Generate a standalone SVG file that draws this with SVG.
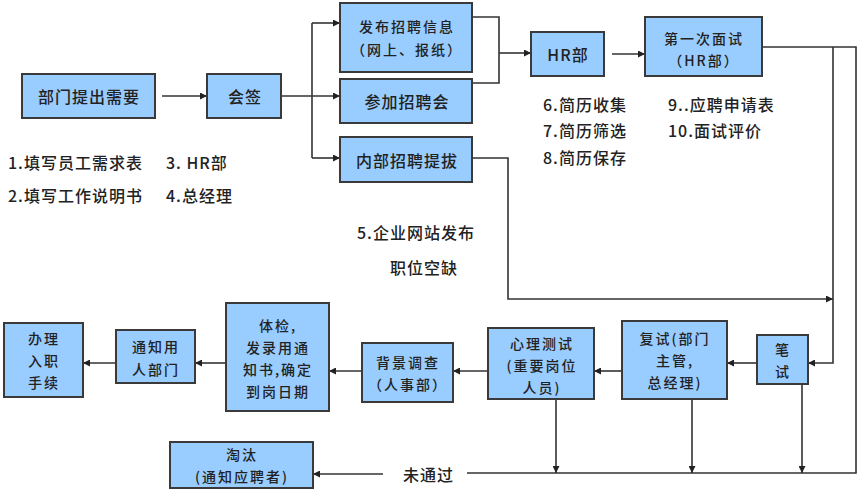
<svg xmlns="http://www.w3.org/2000/svg" width="863" height="500" viewBox="0 0 863 500">
<defs>
<style>
.box{fill:#99ccff;stroke:#3a3a3a;stroke-width:2}
.t{font-family:"Noto Sans CJK SC","Liberation Sans",sans-serif;font-size:16px;font-weight:500;fill:#222;letter-spacing:1px;dominant-baseline:central}
.m{font-size:14px;letter-spacing:2px}
.c{text-anchor:middle}
.ln{fill:none;stroke:#333;stroke-width:1.6}
</style>
<marker id="ah" viewBox="0 0 10 10" refX="10" refY="5" markerWidth="7" markerHeight="7" orient="auto" markerUnits="userSpaceOnUse">
<path d="M0,0 L10,5 L0,10 z" fill="#222"/>
</marker>
</defs>
<rect width="863" height="500" fill="#ffffff"/>

<g id="connectors">
<path class="ln" d="M162,96 H207" marker-end="url(#ah)"/>
<path class="ln" d="M281,96 H340" marker-end="url(#ah)"/>
<path class="ln" d="M312,23 V158"/>
<path class="ln" d="M312,23 H340" marker-end="url(#ah)"/>
<path class="ln" d="M312,158 H340" marker-end="url(#ah)"/>
<path class="ln" d="M472,17 H499 V83 H472"/>
<path class="ln" d="M499,53 H531" marker-end="url(#ah)"/>
<path class="ln" d="M612,54 H645" marker-end="url(#ah)"/>
<path class="ln" d="M762,47 H856 V473 H467"/>
<path class="ln" d="M833,47 V363 H808" marker-end="url(#ah)"/>
<path class="ln" d="M472,158 H508 V299 H833" marker-end="url(#ah)"/>
<path class="ln" d="M757,363 H727" marker-end="url(#ah)"/>
<path class="ln" d="M622,371 H594" marker-end="url(#ah)"/>
<path class="ln" d="M488,371 H453" marker-end="url(#ah)"/>
<path class="ln" d="M362,371 H329" marker-end="url(#ah)"/>
<path class="ln" d="M226,363 H195" marker-end="url(#ah)"/>
<path class="ln" d="M116,363 H83" marker-end="url(#ah)"/>
<path class="ln" d="M556,399 V473" marker-end="url(#ah)"/>
<path class="ln" d="M692,399 V473" marker-end="url(#ah)"/>
<path class="ln" d="M802,384 V473" marker-end="url(#ah)"/>
<path class="ln" d="M383,474 H313" marker-end="url(#ah)"/>
</g>

<g id="n-dept">
<rect class="box" x="22" y="74" width="133" height="44"/>
<text class="t c" x="89" y="96">部门提出需要</text>
</g>
<g id="n-sign">
<rect class="box" x="207" y="74" width="74" height="44"/>
<text class="t c" x="245" y="96">会签</text>
</g>
<g id="n-publish">
<rect class="box" x="340" y="3" width="132" height="69"/>
<text class="t m c" x="407" y="26">发布招聘信息</text>
<text class="t m c" x="407" y="49">（网上、报纸）</text>
</g>
<g id="n-fair">
<rect class="box" x="340" y="79" width="132" height="44"/>
<text class="t c" x="407" y="101">参加招聘会</text>
</g>
<g id="n-internal">
<rect class="box" x="340" y="137" width="132" height="45"/>
<text class="t c" x="407" y="160">内部招聘提拔</text>
</g>
<g id="n-hr">
<rect class="box" x="531" y="32" width="73" height="44"/>
<text class="t c" x="568" y="54">HR部</text>
</g>
<g id="n-first">
<rect class="box" x="645" y="17" width="117" height="59"/>
<text class="t m c" x="704" y="38">第一次面试</text>
<text class="t m c" x="704" y="60">（HR部）</text>
</g>
<g id="n-written">
<rect class="box" x="757" y="335" width="51" height="49"/>
<text class="t m c" x="783" y="349">笔</text>
<text class="t m c" x="783" y="371">试</text>
</g>
<g id="n-second">
<rect class="box" x="622" y="321" width="105" height="78"/>
<text class="t m c" x="675" y="338">复试(部门</text>
<text class="t m c" x="675" y="360">主管,</text>
<text class="t m c" x="675" y="382">总经理)</text>
</g>
<g id="n-psych">
<rect class="box" x="488" y="328" width="106" height="71"/>
<text class="t m c" x="542" y="343">心理测试</text>
<text class="t m c" x="542" y="365">(重要岗位</text>
<text class="t m c" x="542" y="387">人员)</text>
</g>
<g id="n-bg">
<rect class="box" x="362" y="343" width="91" height="59"/>
<text class="t m c" x="408" y="362">背景调查</text>
<text class="t m c" x="408" y="384">（人事部）</text>
</g>
<g id="n-exam">
<rect class="box" x="226" y="303" width="103" height="108"/>
<text class="t m c" x="278" y="325">体检,</text>
<text class="t m c" x="278" y="347">发录用通</text>
<text class="t m c" x="278" y="369">知书,确定</text>
<text class="t m c" x="278" y="391">到岗日期</text>
</g>
<g id="n-notify">
<rect class="box" x="116" y="330" width="79" height="53"/>
<text class="t m c" x="156" y="346">通知用</text>
<text class="t m c" x="156" y="369">人部门</text>
</g>
<g id="n-onboard">
<rect class="box" x="4" y="323" width="79" height="74"/>
<text class="t m c" x="44" y="338">办理</text>
<text class="t m c" x="44" y="360">入职</text>
<text class="t m c" x="44" y="382">手续</text>
</g>
<g id="n-reject">
<rect class="box" x="170" y="442" width="143" height="46"/>
<text class="t m c" x="242" y="454">淘汰</text>
<text class="t m c" x="242" y="476">(通知应聘者)</text>
</g>

<g id="labels">
<text class="t" x="8" y="162">1.填写员工需求表</text>
<text class="t" x="166" y="162">3. HR部</text>
<text class="t" x="8" y="195">2.填写工作说明书</text>
<text class="t" x="166" y="195">4.总经理</text>
<text class="t" x="357" y="232">5.企业网站发布</text>
<text class="t" x="390" y="267">职位空缺</text>
<text class="t" x="543" y="104">6.简历收集</text>
<text class="t" x="543" y="130">7.简历筛选</text>
<text class="t" x="543" y="157">8.简历保存</text>
<text class="t" x="668" y="104">9..应聘申请表</text>
<text class="t" x="668" y="130">10.面试评价</text>
<text class="t" x="403" y="474">未通过</text>
</g>
</svg>
